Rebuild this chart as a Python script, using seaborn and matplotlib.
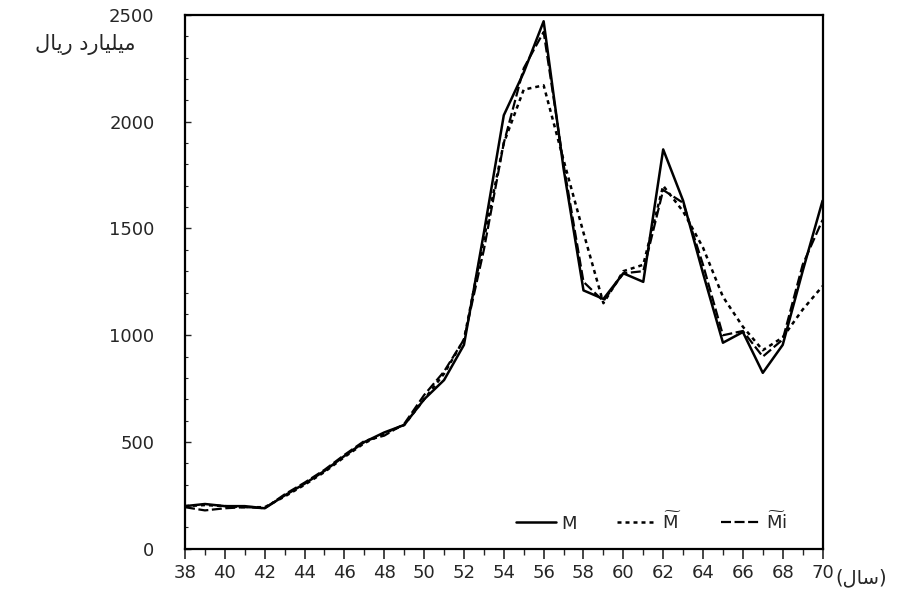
import numpy as np
import pandas as pd
import matplotlib
matplotlib.use('Agg')
import matplotlib.pyplot as plt
import seaborn as sns

# years (Iranian calendar, 1338-1370)
years = list(range(38, 71))

# M : actual series (solid)
m_actual = [200, 210, 200, 200, 190, 250, 305, 365, 435, 500, 545, 580, 700, 790, 955,
            1480, 2030, 2230, 2470, 1780, 1210, 1170, 1290, 1250, 1870, 1630, 1290,
            965, 1015, 824, 955, 1300, 1630]

# M~ : fitted series (short dashes)
m_tilde = [200, 205, 200, 195, 195, 245, 300, 360, 430, 495, 540, 580, 700, 820, 980,
           1450, 1900, 2150, 2170, 1820, 1480, 1150, 1300, 1330, 1700, 1580, 1410,
           1180, 1040, 930, 990, 1120, 1230]

# M~i : fitted series (long dashes)
m_tilde_i = [195, 180, 190, 195, 190, 255, 310, 370, 440, 505, 530, 585, 720, 830, 980,
             1400, 1900, 2250, 2420, 1800, 1250, 1160, 1290, 1300, 1680, 1620, 1330,
             1000, 1020, 900, 980, 1330, 1540]

labels = [r'$\mathrm{M}$', r'$\widetilde{\mathrm{M}}$', r'$\widetilde{\mathrm{M}}\mathrm{i}$']
styles = ['-', (0, (1.6, 1.6)), (0, (4.5, 1.6))]
widths = [1.8, 1.8, 1.6]

y_ticks = [0, 500, 1000, 1500, 2000, 2500]
x_ticks = list(range(38, 71, 2))

# Persian text in visual order (presentation forms)
y_unit = '\uFEDD\uFE8E\uFEF3\uFEAD \uFEA9\uFEAD\uFE8E\uFEF4\uFEE0\uFEF4\uFEE3'
x_unit = '(\uFEDD\uFE8E\uFEB3)'

sns.set_style('ticks')
plt.rcParams['font.family'] = ['DejaVu Sans']
plt.rcParams['mathtext.fontset'] = 'dejavusans'

fig = plt.figure(figsize=(9.16, 5.94), dpi=100)
ax = fig.add_axes([0.202, 0.076, 0.696, 0.899])

for vals, lab, ls, lw in zip([m_actual, m_tilde, m_tilde_i], labels, styles, widths):
    df = pd.DataFrame({'year': years, 'value': vals})
    sns.lineplot(data=df, x='year', y='value', ax=ax, color='black',
                 linestyle=ls, linewidth=lw, label=lab)

ax.set_xlim(38, 70)
ax.set_ylim(0, 2500)
ax.set_xticks(x_ticks)
ax.set_xticks(years, minor=True)
ax.set_yticks(y_ticks)
ax.set_yticks(list(range(0, 2501, 100)), minor=True)
ax.tick_params(axis='x', which='major', direction='out', length=7, width=1.2,
               labelsize=13, pad=4)
ax.tick_params(axis='x', which='minor', direction='out', length=4, width=1)
ax.tick_params(axis='y', which='major', direction='in', length=4, width=1,
               labelsize=13, pad=22)
ax.tick_params(axis='y', which='minor', direction='in', length=2, width=0.8)
ax.set_xlabel('')
ax.set_ylabel('')
for s in ax.spines.values():
    s.set_linewidth(1.6)
    s.set_color('black')
    s.set_visible(True)

leg = ax.legend(loc='lower right', ncol=3, frameon=False, fontsize=13,
                handlelength=2.2, handletextpad=0.3, columnspacing=2.2,
                bbox_to_anchor=(0.97, 0.0))

fig.text(0.038, 0.925, y_unit, fontsize=15, ha='left', va='center')
fig.text(0.912, 0.027, x_unit, fontsize=14, ha='left', va='center')

fig.savefig('out.png', dpi=100, facecolor='white')
